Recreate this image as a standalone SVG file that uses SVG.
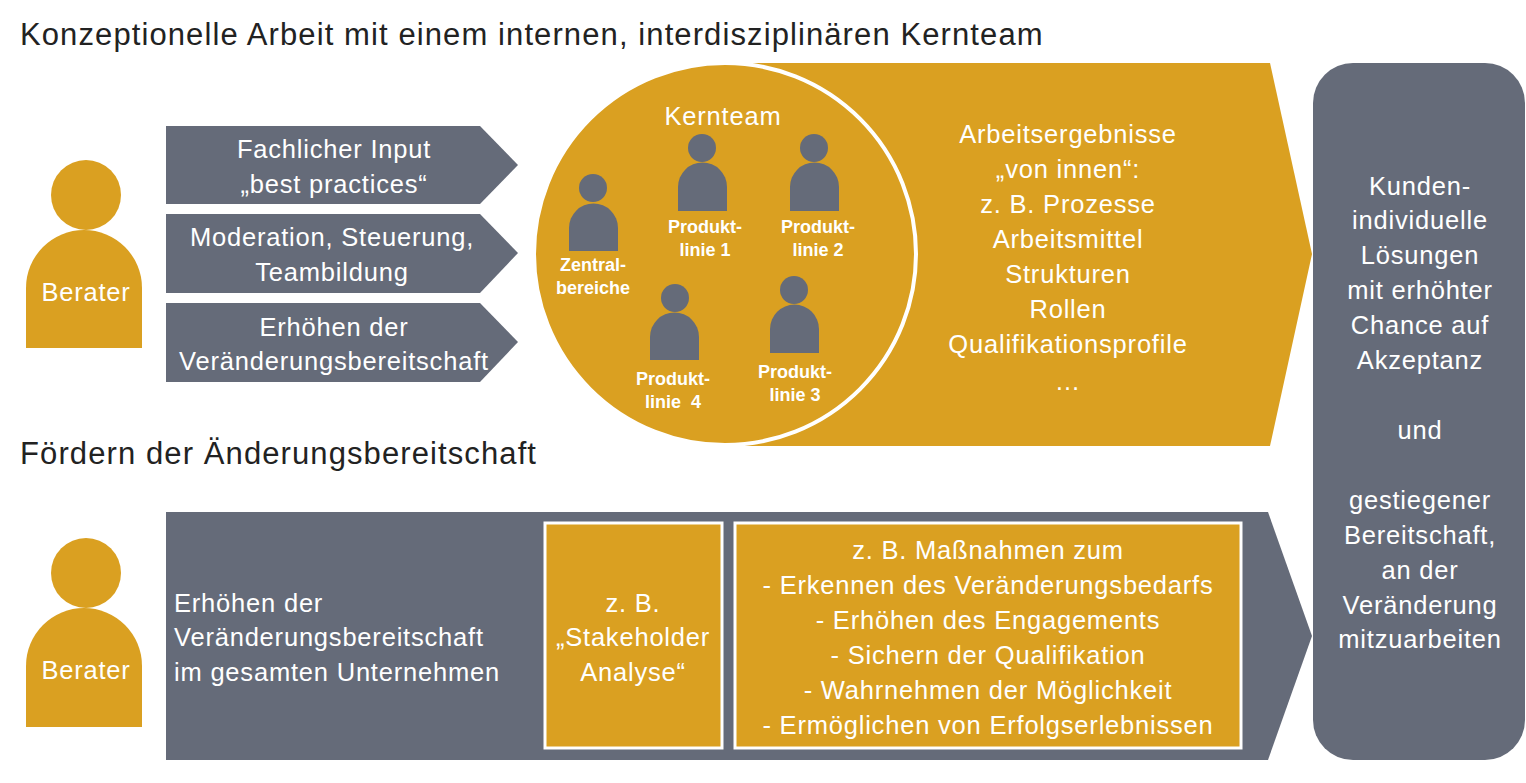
<svg xmlns="http://www.w3.org/2000/svg" width="1526" height="783" viewBox="0 0 1526 783">
<style>
.g{fill:#DAA021}.s{fill:#656B79}
text{font-family:"Liberation Sans",Arial,sans-serif;fill:#fff;text-anchor:middle;font-size:25.5px;letter-spacing:0.8px}
.t{fill:#222;text-anchor:start;font-size:31px;letter-spacing:1.1px}
.b{font-weight:bold;font-size:18px;letter-spacing:0}
</style>
<rect width="1526" height="783" fill="#fff"/>
<text class="t" x="20" y="45">Konzeptionelle Arbeit mit einem internen, interdisziplinären Kernteam</text>
<text class="t" x="20" y="464">Fördern der Änderungsbereitschaft</text>
<g id="berater1"><circle class="g" cx="86" cy="195" r="35"/><path class="g" d="M26 348V288A58 58 0 0 1 142 288V348Z"/><text x="86" y="301">Berater</text></g>
<g id="berater2"><circle class="g" cx="86" cy="573" r="35"/><path class="g" d="M26 727V666A58 58 0 0 1 142 666V727Z"/><text x="86" y="679">Berater</text></g>
<g id="chev1"><path class="s" d="M166 126H480L518 165L480 204H166Z"/><text x="334" y="158">Fachlicher Input</text><text x="334" y="193">„best practices“</text></g>
<g id="chev2"><path class="s" d="M166 214H480L518 253L480 293H166Z"/><text x="332" y="246">Moderation, Steuerung,</text><text x="332" y="281">Teambildung</text></g>
<g id="chev3"><path class="s" d="M166 303H480L518 342L480 382H166Z"/><text x="334" y="336">Erhöhen der</text><text x="334" y="370">Veränderungsbereitschaft</text></g>
<g id="bigarrow"><path class="g" d="M725 63H1270L1312 254L1270 446H725Z"/>
<text x="1068" y="143">Arbeitsergebnisse</text><text x="1068" y="178">„von innen“:</text><text x="1068" y="213">z. B. Prozesse</text><text x="1068" y="248">Arbeitsmittel</text><text x="1068" y="283">Strukturen</text><text x="1068" y="318">Rollen</text><text x="1068" y="353">Qualifikationsprofile</text><text x="1068" y="390">…</text></g>
<g id="kernteam"><circle class="g" cx="725" cy="254" r="191" stroke="#fff" stroke-width="4"/>
<text x="723" y="125">Kernteam</text>
<circle class="s" cx="593" cy="188" r="14"/><path class="s" d="M569 251V228A24.5 24.5 0 0 1 618 228V251Z"/><text class="b" x="593" y="271">Zentral-</text><text class="b" x="593" y="294">bereiche</text>
<circle class="s" cx="702" cy="148" r="14"/><path class="s" d="M678 211V187A24.5 24.5 0 0 1 727 187V211Z"/><text class="b" x="705" y="233">Produkt-</text><text class="b" x="705" y="256">linie  1</text>
<circle class="s" cx="814" cy="148" r="14"/><path class="s" d="M790 211V187A24.5 24.5 0 0 1 839 187V211Z"/><text class="b" x="818" y="233">Produkt-</text><text class="b" x="818" y="256">linie  2</text>
<circle class="s" cx="675" cy="298" r="14"/><path class="s" d="M650 360V337A24.5 24.5 0 0 1 699 337V360Z"/><text class="b" x="673" y="385">Produkt-</text><text class="b" x="673" y="408" xml:space="preserve">linie  4</text>
<circle class="s" cx="794" cy="290" r="14"/><path class="s" d="M770 353V329A24.5 24.5 0 0 1 819 329V353Z"/><text class="b" x="795" y="378">Produkt-</text><text class="b" x="795" y="401">linie 3</text></g>
<g id="result"><rect class="s" x="1313" y="63" width="212" height="697" rx="40"/>
<text x="1420" y="195">Kunden-</text><text x="1420" y="229">individuelle</text><text x="1420" y="264">Lösungen</text><text x="1420" y="299">mit erhöhter</text><text x="1420" y="334">Chance auf</text><text x="1420" y="369">Akzeptanz</text><text x="1420" y="439">und</text><text x="1420" y="509">gestiegener</text><text x="1420" y="544">Bereitschaft,</text><text x="1420" y="579">an der</text><text x="1420" y="614">Veränderung</text><text x="1420" y="648">mitzuarbeiten</text></g>
<g id="bottomarrow"><path class="s" d="M166 512H1268L1312 636L1268 760H166Z"/>
<text x="174" y="612" style="text-anchor:start">Erhöhen der</text><text x="174" y="646" style="text-anchor:start">Veränderungsbereitschaft</text><text x="174" y="681" style="text-anchor:start">im gesamten Unternehmen</text></g>
<g id="box1"><rect class="g" x="545" y="523" width="177" height="225" stroke="#fff" stroke-width="3"/><text x="633" y="612">z. B.</text><text x="633" y="646">„Stakeholder</text><text x="633" y="681">Analyse“</text></g>
<g id="box2"><rect class="g" x="735" y="523" width="506" height="225" stroke="#fff" stroke-width="3"/>
<text x="988" y="559">z. B. Maßnahmen zum</text><text x="988" y="594">- Erkennen des Veränderungsbedarfs</text><text x="988" y="629">- Erhöhen des Engagements</text><text x="988" y="664">- Sichern der Qualifikation</text><text x="988" y="699">- Wahrnehmen der Möglichkeit</text><text x="988" y="734">- Ermöglichen von Erfolgserlebnissen</text></g>
</svg>
